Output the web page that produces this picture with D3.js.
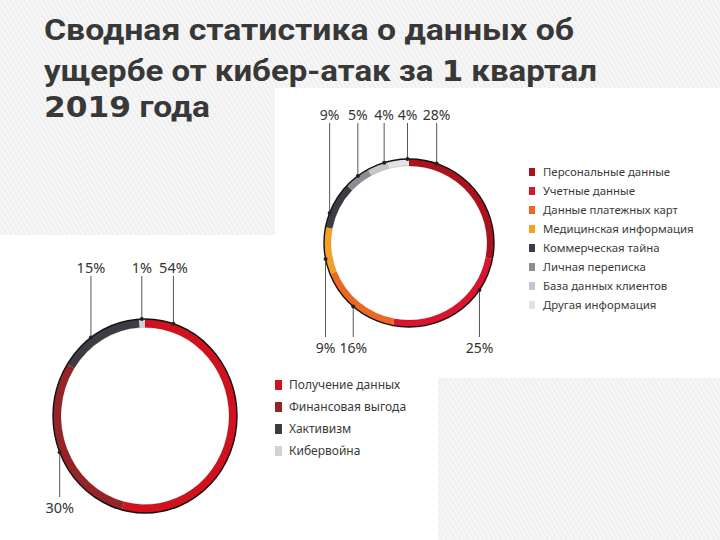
<!DOCTYPE html>
<html><head><meta charset="utf-8">
<script src="https://cdn.jsdelivr.net/npm/d3@7"></script>
<style>html,body{margin:0;padding:0;background:#fff}svg{display:block}</style>
</head><body><svg id="c" width="720" height="540"></svg>
<script>
// ---- data ----
const titleLine1 = "Сводная статистика о данных об";
const titleLine2 = ["ущербе от кибер-атак за ", "1", " квартал"];
const titleLine3 = ["2019", " года"];

const dataTypes = ["Персональные данные","Учетные данные","Данные платежных карт","Медицинская информация","Коммерческая тайна","Личная переписка","База данных клиентов","Другая информация"];
const dataTypeShares = [28,25,16,9,9,5,4,4];
const dataTypeColors = ["#ad111b","#d9142c","#ef6622","#f5a023","#3d3c42","#8c8c93","#c6c6ca","#e2e2e4"];

const motives = ["Получение данных","Финансовая выгода","Хактивизм","Кибервойна"];
const motiveShares = [54,30,15,1];
const motiveColors = ["#d1111d","#962326","#3f3b45","#d2d2d2"];

// ---- layout ----
const svg = d3.select("#c");
const defs = svg.append("defs");
const pat = defs.append("pattern").attr("id","hatch").attr("patternUnits","userSpaceOnUse")
  .attr("width",4).attr("height",4).attr("patternTransform","rotate(-30)");
pat.append("rect").attr("width",4).attr("height",4).attr("fill","#f7f7f7");
pat.append("rect").attr("width",1.6).attr("height",4).attr("fill","#ededed");
svg.append("rect").attr("width",720).attr("height",540).attr("fill","url(#hatch)");
// pasted images (white panels)
svg.append("rect").attr("x",275).attr("y",88).attr("width",445).attr("height",290).attr("fill","#fff");
svg.append("rect").attr("x",0).attr("y",235).attr("width",438).attr("height",305).attr("fill","#fff");

// title
const tf = "Roboto, 'Liberation Sans', Arial, sans-serif";
const t = svg.append("g").attr("fill","#383838").attr("font-family",tf).attr("font-weight","bold").attr("font-size",30);
t.append("text").attr("x",44).attr("y",40).attr("textLength",530).attr("lengthAdjust","spacingAndGlyphs").text(titleLine1);
const l2 = t.append("text").attr("x",44).attr("y",81).attr("textLength",553).attr("lengthAdjust","spacingAndGlyphs");
titleLine2.forEach((s,i)=>{ const ts=l2.append("tspan").text(s); if(i===1) ts.attr("font-family","'DejaVu Sans'").attr("font-size",28); });
const l3 = t.append("text").attr("x",44).attr("y",117).attr("textLength",166).attr("lengthAdjust","spacingAndGlyphs");
titleLine3.forEach((s,i)=>{ const ts=l3.append("tspan").text(s); if(i===0) ts.attr("font-family","'DejaVu Sans'").attr("font-size",28); });

const lf = "'Noto Sans', sans-serif";

function donut(opts){
  const {cx,cy,rx,ry,thick,values,colors,anchors,topY,botY,botLabelY,fs} = opts;
  const g = svg.append("g").attr("transform",`translate(${cx},${cy})`);
  const ring = g.append("g").attr("transform",`scale(1,${ry/rx})`);
  const pie = d3.pie().sort(null).value(d=>d)(values);
  const arc = d3.arc().innerRadius(rx-thick).outerRadius(rx);
  ring.selectAll("path").data(pie).join("path").attr("d",arc).attr("fill",(d,i)=>colors[i]);
  ring.append("circle").attr("r",rx).attr("fill","none").attr("stroke","#111").attr("stroke-width",1.4);
  ring.append("circle").attr("r",rx-thick).attr("fill","none").attr("stroke","#000").attr("stroke-opacity",0.12).attr("stroke-width",1);
  values.forEach((v,i)=>{
    const a = anchors[i]*Math.PI/180;
    const px = rx*Math.sin(a), py = -ry*Math.cos(a);
    const up = Math.cos(a) > 0;
    const ly = up ? topY : botY;
    g.append("line").attr("x1",px).attr("x2",px).attr("y1",py).attr("y2",ly).attr("stroke","#555").attr("stroke-width",1);
    g.append("circle").attr("cx",px).attr("cy",py).attr("r",2).attr("fill","#222");
    g.append("text").attr("x",px).attr("y",up ? topY-3 : botLabelY).attr("text-anchor","middle")
      .attr("font-family",lf).attr("font-size",fs).attr("fill","#333").text(v+"%");
  });
}

donut({cx:409,cy:243,rx:85,ry:84,thick:7,values:dataTypeShares,colors:dataTypeColors,
  anchors:[19,124,221,259,291,323,343,359],topY:123-243,botY:337-243,botLabelY:353-243,fs:14});

donut({cx:145,cy:416,rx:92,ry:97,thick:8,values:motiveShares,colors:motiveColors,
  anchors:[18,248,324,358],topY:276-416,botY:497-416,botLabelY:513-416,fs:14.5});

function legend(x,y0,dy,names,colors,fs,sw,sh,gap){
  const g = svg.append("g");
  names.forEach((n,i)=>{
    const y = y0+i*dy;
    g.append("rect").attr("x",x).attr("y",y-sh/2).attr("width",sw).attr("height",sh).attr("fill",colors[i]);
    g.append("text").attr("x",x+gap).attr("y",y).attr("dy","0.35em").attr("font-family",lf)
      .attr("font-size",fs).attr("fill","#3a3a3a").text(n);
  });
}
legend(529,172,19,dataTypes,dataTypeColors,11.4,6,8,14);
legend(275,385,22,motives,motiveColors,12,7,10,14);
</script></body></html>
